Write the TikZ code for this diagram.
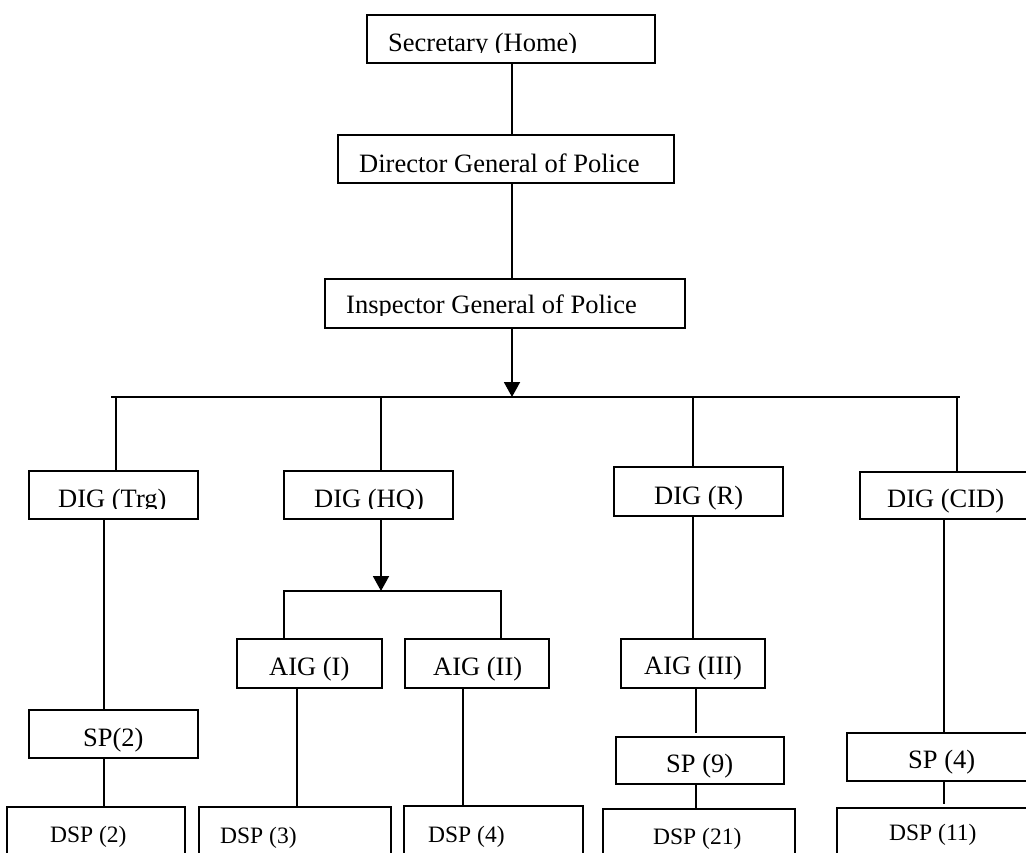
\documentclass[tikz,border=0pt]{standalone}
\usepackage{fontspec}
\setmainfont{Liberation Serif}
\usetikzlibrary{arrows.meta}
\tikzset{
  box/.style={draw, line width=1.9pt, inner sep=0pt, rectangle},
  lab/.style={inner sep=0pt, anchor=base west, font=\fontsize{26.5}{30}\selectfont},
  slab/.style={inner sep=0pt, anchor=base west, font=\fontsize{23.5}{27}\selectfont},
  conn/.style={line width=1.9pt},
  arr/.style={line width=1.9pt, -{Triangle[width=16pt,length=15pt]}}
}
% \bx{name}{x1}{y1}{x2}{y2}
\newcommand\bx[5]{\node[box, minimum width={(#4-#2)*1pt}, minimum height={(#5-#3)*1pt}] (#1) at ({(#2+#4)/2},{(#3+#5)/2}) {};}
\begin{document}
\begin{tikzpicture}[x=1pt,y=-1pt]
\clip (0,0) rectangle (1026,852);
\fill[white] (0,0) rectangle (1026,852);
% boxes
\bx{sec}{367}{15}{655}{63}
\bx{dgp}{338}{135}{674}{183}
\bx{igp}{325}{279}{685}{328}
\bx{trg}{29}{471}{198}{519}
\bx{hq}{284}{471}{453}{519}
\bx{r}{614}{467}{783}{516}
\bx{cid}{860}{472}{1045}{519}
\bx{aiga}{237}{639}{382}{688}
\bx{aigb}{405}{639}{549}{688}
\bx{aigc}{621}{639}{765}{688}
\bx{spa}{29}{710}{198}{758}
\bx{spb}{616}{737}{784}{784}
\bx{spc}{847}{733}{1045}{781}
\bx{dspa}{7}{807}{185}{880}
\bx{dspb}{199}{807}{391}{880}
\bx{dspc}{404}{806}{583}{880}
\bx{dspd}{603}{809}{795}{880}
\bx{dspe}{837}{808}{1045}{880}
% labels (some clipped like the original text boxes)
\begin{scope}\clip (367,15) rectangle (655,52.5);
\node[lab] (tsec) at (388,51) {Secretary (Home)};\end{scope}
\node[lab] (tdgp) at (359,172) {Director General of Police};
\begin{scope}\clip (325,279) rectangle (685,315.5);
\node[lab] (tigp) at (346,313) {Inspector General of Police};\end{scope}
\begin{scope}\clip (29,471) rectangle (198,508.5);
\node[lab] (ttrg) at (58,507) {DIG (Trg)};\end{scope}
\begin{scope}\clip (284,471) rectangle (453,508.5);
\node[lab] (thq) at (314,507) {DIG (HQ)};\end{scope}
\node[lab] (tr) at (654,504) {DIG (R)};
\node[lab] (tcid) at (887,507) {DIG (CID)};
\node[lab] (taiga) at (269,675) {AIG (I)};
\node[lab] (taigb) at (433,675) {AIG (II)};
\node[lab] (taigc) at (644,674) {AIG (III)};
\node[lab] (tspa) at (83,746) {SP(2)};
\node[lab] (tspb) at (666,772) {SP (9)};
\node[lab] (tspc) at (908,768) {SP (4)};
\node[slab] (tdspa) at (50,842) {DSP (2)};
\node[slab] (tdspb) at (220,843) {DSP (3)};
\node[slab] (tdspc) at (428,842) {DSP (4)};
\node[slab] (tdspd) at (653,844) {DSP (21)};
\node[slab] (tdspe) at (889,840) {DSP (11)};
% bus coordinates
\coordinate (busL) at (111,397);
\coordinate (busR) at (960,397);
\coordinate (busM) at (512,397);
\coordinate (hqL) at (284,591);
\coordinate (hqR) at (501,591);
\coordinate (hqM) at (381,591);
% connectors
\draw[conn] (sec.south -| 512,0) -- (dgp.north -| 512,0);
\draw[conn] (dgp.south -| 512,0) -- (igp.north -| 512,0);
\draw[arr] (igp.south -| busM) -- (busM);
\draw[conn] (busL) -- (busR);
\draw[conn] (116,397) -- (trg.north -| 116,0);
\draw[conn] (381,397) -- (hq.north -| 381,0);
\draw[conn] (693,397) -- (r.north -| 693,0);
\draw[conn] (957,397) -- (cid.north -| 957,0);
\draw[conn] (trg.south -| 104,0) -- (spa.north -| 104,0);
\draw[conn] (spa.south -| 104,0) -- (dspa.north -| 104,0);
\draw[arr] (hq.south -| hqM) -- (hqM);
\draw[conn] (aiga.north -| hqL) |- (hqR) -- (aigb.north -| hqR);
\draw[conn] (aiga.south -| 297,0) -- (dspb.north -| 297,0);
\draw[conn] (aigb.south -| 463,0) -- (dspc.north -| 463,0);
\draw[conn] (r.south -| 693,0) -- (aigc.north -| 693,0);
\draw[conn] (aigc.south -| 696,0) -- (696,733);
\draw[conn] (spb.south -| 696,0) -- (dspd.north -| 696,0);
\draw[conn] (cid.south -| 944,0) -- (spc.north -| 944,0);
\draw[conn] (spc.south -| 944,0) -- (944,804);
\end{tikzpicture}
\end{document}
